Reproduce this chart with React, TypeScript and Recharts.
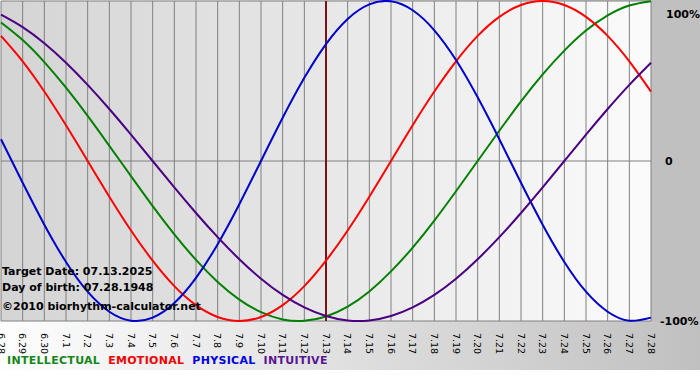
import React from "react";
import {
  LineChart,
  Line,
  XAxis,
  YAxis,
  CartesianGrid,
  ReferenceLine,
} from "recharts";

const DATES = [
  "6.28", "6.29", "6.30", "7.1", "7.2", "7.3", "7.4", "7.5", "7.6", "7.7", "7.8",
  "7.9", "7.10", "7.11", "7.12", "7.13", "7.14", "7.15", "7.16", "7.17", "7.18",
  "7.19", "7.20", "7.21", "7.22", "7.23", "7.24", "7.25", "7.26", "7.27", "7.28",
];

const INTELLECTUAL = [
  0.866, 0.756, 0.618, 0.458, 0.282, 0.095, -0.095, -0.282, -0.458, -0.618, -0.756,
  -0.866, -0.945, -0.99, -0.999, -0.972, -0.91, -0.815, -0.69, -0.541, -0.372,
  -0.189, 0, 0.189, 0.372, 0.541, 0.69, 0.815, 0.91, 0.972, 0.999,
];

const EMOTIONAL = [
  0.782, 0.623, 0.434, 0.223, 0, -0.223, -0.434, -0.623, -0.782, -0.901, -0.975,
  -1.0, -0.975, -0.901, -0.782, -0.623, -0.434, -0.223, 0, 0.223, 0.434,
  0.623, 0.782, 0.901, 0.975, 1.0, 0.975, 0.901, 0.782, 0.623, 0.434,
];

const PHYSICAL = [
  0.136, -0.136, -0.398, -0.631, -0.817, -0.942, -0.998, -0.979, -0.888, -0.731, -0.52,
  -0.27, 0, 0.27, 0.52, 0.731, 0.888, 0.979, 0.998, 0.942, 0.817,
  0.631, 0.398, 0.136, -0.136, -0.398, -0.631, -0.817, -0.942, -0.998, -0.979,
];

const INTUITIVE = [
  0.915, 0.837, 0.736, 0.614, 0.476, 0.325, 0.165, 0, -0.165, -0.325, -0.476,
  -0.614, -0.736, -0.837, -0.915, -0.969, -0.997, -0.997, -0.969, -0.915, -0.837,
  -0.736, -0.614, -0.476, -0.325, -0.165, 0, 0.165, 0.325, 0.476, 0.614,
];

const Y_TICKS = [-1, 0, 1];
const TARGET = "7.13";

const SERIES = [
  { key: "intellectual", label: "INTELLECTUAL", color: "#008000", legend: "#17861a" },
  { key: "emotional", label: "EMOTIONAL", color: "#ff0000", legend: "#f00000" },
  { key: "physical", label: "PHYSICAL", color: "#0000cc", legend: "#0000e0" },
  { key: "intuitive", label: "INTUITIVE", color: "#4b0082", legend: "#5a1690" },
];

const data = DATES.map((date, i) => ({
  date,
  intellectual: INTELLECTUAL[i],
  emotional: EMOTIONAL[i],
  physical: PHYSICAL[i],
  intuitive: INTUITIVE[i],
}));

const FONT = "'DejaVu Sans', Verdana, sans-serif";

function DateTick(props: any) {
  const { x, y, payload } = props;
  return (
    <g transform={`translate(${x},${y})`}>
      <text
        transform="rotate(90)"
        x={4}
        y={0}
        dy="0.35em"
        textAnchor="start"
        fontSize={9.5}
        fontFamily={FONT}
        fill="#000"
      >
        {payload.value}
      </text>
    </g>
  );
}

function PercentTick(props: any) {
  const { x, y, payload } = props;
  const v = payload.value;
  const label = v === 0 ? "0" : `${v * 100}%`;
  const shift = v === 1 ? 5 : 0;
  return (
    <text
      x={x + (v === -1 ? 1 : v === 0 ? 6 : 7)}
      y={y + shift}
      dy="0.35em"
      textAnchor="start"
      fontSize={11}
      fontWeight="bold"
      fontFamily={FONT}
      fill="#000"
    >
      {label}
    </text>
  );
}

const textStyle: React.CSSProperties = {
  position: "absolute",
  left: 2,
  fontFamily: FONT,
  fontWeight: "bold",
  fontSize: 11,
  color: "#000",
  whiteSpace: "nowrap",
  lineHeight: "13px",
};

export default function App() {
  return (
    <div
      style={{
        position: "absolute",
        left: 0,
        top: 0,
        width: 700,
        height: 380,
        background: "#fff",
        overflow: "hidden",
      }}
    >
      <div
        style={{
          position: "absolute",
          left: 0,
          top: 0,
          width: 700,
          height: 370,
          background: "linear-gradient(to right, #fefefe, #c0c0c0)",
        }}
      />
      <div
        style={{
          position: "absolute",
          left: 651,
          top: 0,
          width: 49,
          height: 322,
          background: "#c0c0c0",
        }}
      />
      <div style={{ position: "absolute", left: 0, top: 0 }}>
        <LineChart
          width={700}
          height={370}
          data={data}
          margin={{ top: 1, right: 0, bottom: 0, left: 1 }}
        >
          <defs>
            <linearGradient id="plotBg" x1="0" y1="0" x2="1" y2="0">
              <stop offset="0%" stopColor="#d4d4d4" />
              <stop offset="100%" stopColor="#fbfbfb" />
            </linearGradient>
          </defs>
          <CartesianGrid stroke="#808080" fill="url(#plotBg)" fillOpacity={1} />
          <XAxis
            dataKey="date"
            interval={0}
            height={49}
            tickLine={false}
            axisLine={false}
            tick={<DateTick />}
          />
          <YAxis
            orientation="right"
            width={49}
            domain={[-1, 1]}
            ticks={Y_TICKS}
            tickLine={false}
            axisLine={false}
            tick={<PercentTick />}
          />
          <ReferenceLine x={TARGET} stroke="#7a1414" strokeWidth={2} />
          {SERIES.map((s) => (
            <Line
              key={s.key}
              type="natural"
              dataKey={s.key}
              stroke={s.color}
              strokeWidth={2}
              dot={false}
              isAnimationActive={false}
            />
          ))}
        </LineChart>
      </div>
      <div style={{ ...textStyle, top: 265 }}>Target Date: 07.13.2025</div>
      <div style={{ ...textStyle, top: 281 }}>Day of birth: 07.28.1948</div>
      <div style={{ ...textStyle, top: 300 }}>©2010 biorhythm-calculator.net</div>
      <div
        style={{
          position: "absolute",
          left: 7,
          top: 354,
          fontFamily: FONT,
          fontWeight: "bold",
          fontSize: 11,
          letterSpacing: 0.3,
          whiteSpace: "nowrap",
        }}
      >
        {SERIES.map((s) => (
          <span key={s.key} style={{ color: s.legend, marginRight: 8 }}>
            {s.label}
          </span>
        ))}
      </div>
    </div>
  );
}
